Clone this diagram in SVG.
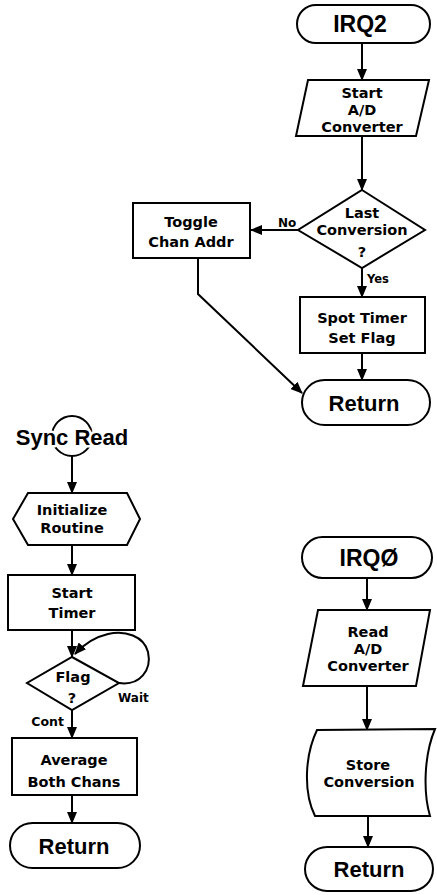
<svg xmlns="http://www.w3.org/2000/svg" width="437" height="895" viewBox="0 0 437 895">
<style>
.s{fill:#fff;stroke:#000;stroke-width:2}
.t{font-family:"DejaVu Sans",sans-serif;font-weight:bold;font-size:14.5px;text-anchor:middle;fill:#000}
.b{font-family:"Liberation Sans",Arial,sans-serif;font-weight:bold;font-size:22px;text-anchor:middle;fill:#000}
.l{font-family:"DejaVu Sans",sans-serif;font-weight:bold;font-size:12px;fill:#000}
.c{fill:none;stroke:#000;stroke-width:2;marker-end:url(#ah)}
.halo{paint-order:stroke;stroke:#fff;stroke-width:5px;stroke-linejoin:round}
</style>
<defs>
<marker id="ah" markerUnits="userSpaceOnUse" markerWidth="12" markerHeight="10" refX="11" refY="5" orient="auto">
<path d="M0,0 L12,5 L0,10 Z" fill="#000"/>
</marker>
</defs>
<rect width="437" height="895" fill="#fff"/>

<g id="connectors">
<line class="c" x1="362" y1="43" x2="362" y2="80"/>
<line class="c" x1="362" y1="136" x2="362" y2="190"/>
<line class="c" x1="298" y1="230" x2="251" y2="230"/>
<line class="c" x1="362" y1="268" x2="362" y2="297"/>
<polyline class="c" points="198,258 198,294 302,393"/>
<line class="c" x1="362" y1="353" x2="362" y2="380"/>

<line class="c" x1="72" y1="456" x2="72" y2="493"/>
<line class="c" x1="72" y1="545" x2="72" y2="575"/>
<line class="c" x1="72" y1="630" x2="72" y2="657"/>
<path class="c" d="M119,683 C140,686 152,670 148,652 C144,636 125,630 108,634 C95,637 84,644 75,654"/>
<line class="c" x1="72" y1="710" x2="72" y2="738"/>
<line class="c" x1="72" y1="795" x2="72" y2="823"/>

<line class="c" x1="367" y1="578" x2="367" y2="610"/>
<line class="c" x1="367" y1="686" x2="367" y2="730"/>
<line class="c" x1="368" y1="816" x2="368" y2="847"/>
</g>

<g id="irq2">
<rect class="s" x="297" y="5" width="133" height="38" rx="19"/>
<text class="b" x="360" y="32" style="font-size:23px">IRQ2</text>
</g>
<g id="start-ad">
<polygon class="s" points="308,80 429,80 416,136 296,136"/>
<text class="t" x="362" y="98">Start</text>
<text class="t" x="362" y="115">A/D</text>
<text class="t" x="362" y="132">Converter</text>
</g>
<g id="last-conversion">
<polygon class="s" points="362,190 425,230 362,268 298,230"/>
<text class="t" x="362" y="218">Last</text>
<text class="t" x="362" y="235">Conversion</text>
<text class="t" x="362" y="257">?</text>
</g>
<g id="toggle">
<rect class="s" x="133" y="203" width="117" height="55"/>
<text class="t" x="191" y="227">Toggle</text>
<text class="t" x="191" y="247">Chan Addr</text>
</g>
<g id="labels-irq2">
<text class="l" x="278" y="227">No</text>
<text class="l" x="367" y="283" style="font-size:11.5px">Yes</text>
</g>
<g id="spot-timer">
<rect class="s" x="300" y="297" width="125" height="56"/>
<text class="t" x="362" y="323">Spot Timer</text>
<text class="t" x="362" y="343">Set Flag</text>
</g>
<g id="return1">
<rect class="s" x="302" y="380" width="128" height="45" rx="22.5"/>
<text class="b" x="364" y="411">Return</text>
</g>

<g id="sync-read">
<circle cx="72" cy="436" r="20" fill="none" stroke="#000" stroke-width="2"/>
<text class="b halo" x="72" y="445">Sync Read</text>
</g>
<g id="initialize">
<polygon class="s" points="28,493 127,493 140,519 127,545 28,545 13,519"/>
<text class="t" x="72" y="515">Initialize</text>
<text class="t" x="72" y="533">Routine</text>
</g>
<g id="start-timer">
<rect class="s" x="8" y="575" width="127" height="55"/>
<text class="t" x="72" y="598">Start</text>
<text class="t" x="72" y="618">Timer</text>
</g>
<g id="flag">
<polygon class="s" points="72,657 119,683 72,710 27,683"/>
<text class="t" x="73" y="682">Flag</text>
<text class="t" x="72" y="703">?</text>
</g>
<g id="labels-sync">
<text class="l" x="118" y="702">Wait</text>
<text class="l" x="64" y="726" text-anchor="end" style="font-size:12.5px">Cont</text>
</g>
<g id="average">
<rect class="s" x="12" y="738" width="125" height="57"/>
<text class="t" x="74" y="765">Average</text>
<text class="t" x="74" y="787">Both Chans</text>
</g>
<g id="return2">
<rect class="s" x="10" y="823" width="130" height="45" rx="22.5"/>
<text class="b" x="74" y="854">Return</text>
</g>

<g id="irq0">
<rect class="s" x="302" y="537" width="130" height="41" rx="20.5"/>
<text class="b" x="369" y="566" style="font-size:23px">IRQØ</text>
</g>
<g id="read-ad">
<polygon class="s" points="318,610 430,610 416,686 303,686"/>
<text class="t" x="368" y="637">Read</text>
<text class="t" x="368" y="654">A/D</text>
<text class="t" x="368" y="671">Converter</text>
</g>
<g id="store">
<path class="s" d="M317,730 L435,729 C424,755 423,792 430,816 L315,816 C303,792 305,755 317,730 Z"/>
<text class="t" x="368" y="770">Store</text>
<text class="t" x="369" y="787">Conversion</text>
</g>
<g id="return3">
<rect class="s" x="305" y="847" width="128" height="44" rx="22"/>
<text class="b" x="369" y="877">Return</text>
</g>
</svg>
